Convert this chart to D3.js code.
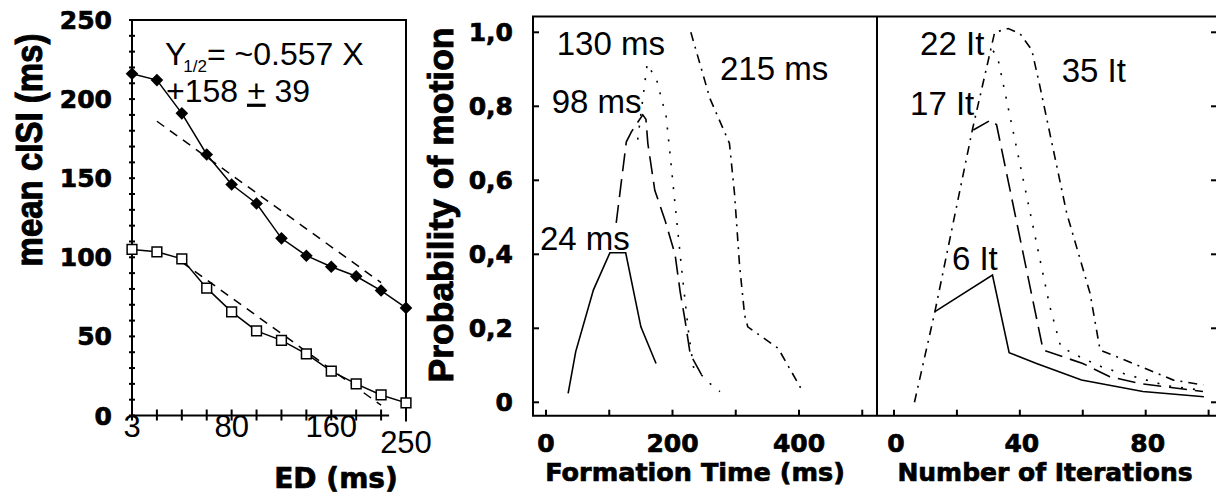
<!DOCTYPE html>
<html>
<head>
<meta charset="utf-8">
<script src="https://cdn.jsdelivr.net/npm/d3@7"></script>
<style>
body { margin: 0; background: #fff; }
svg { display: block; }
.bold { font-family: "DejaVu Sans", sans-serif; font-weight: bold; stroke: #000; stroke-width: 0.7px; }
.rot { font-family: "Liberation Sans", Arial, sans-serif; font-weight: bold; stroke: #000; stroke-width: 0.9px; }
.reg { font-family: "Liberation Sans", Arial, sans-serif; }
</style>
</head>
<body>
<div id="chart"></div>
<script>

// ---- data ----
// left panel: mean cISI vs ED
var edValues = [3, 20, 40, 60, 80, 100, 120, 140, 160, 180, 200, 250];
var edTickLabels = [3, 80, 160, 250];
var cisiTicks = [0, 50, 100, 150, 200, 250];
var cisiDiamond = [216, 212, 191, 165, 146, 134, 112, 101, 94, 88, 79, 68];
var cisiSquare = [105, 103.5, 99, 80.5, 65.5, 53.5, 47.5, 39, 28, 20, 13, 8];
var fitUpper = [[20, 186], [200, 84]];
var fitLower = [[40, 97], [200, 6.5]];

// middle panel: probability vs formation time
var formation24 = [[35, 0.024], [47, 0.137], [75, 0.304], [101, 0.404], [126, 0.404], [150, 0.204], [174, 0.105]];
var formation98 = [[111, 0.485], [127, 0.704], [135, 0.731], [153, 0.777], [158, 0.765], [161, 0.70], [172, 0.573],
                   [188, 0.493], [204, 0.40], [212, 0.30], [220, 0.22], [228, 0.13], [246, 0.074]];
var formation130 = [[145, 0.71], [160, 0.915], [175, 0.871], [190, 0.772], [196, 0.673], [206, 0.502], [216, 0.335],
                    [225, 0.195], [233, 0.096], [259, 0.051], [275, 0.029]];
var formation215 = [[229, 1.0], [259, 0.822], [290, 0.70], [298, 0.565], [306, 0.371], [314, 0.236], [319, 0.204],
                    [367, 0.146], [406, 0.029]];
var timeTicks = [0, 100, 200, 300, 400, 500];
var timeTickLabels = [0, 200, 400];

// right panel: probability vs number of iterations
var iter6 = [[13, 0.245], [31.3, 0.344], [36.6, 0.134], [45.3, 0.105], [59.6, 0.06], [79.1, 0.029], [98.5, 0.015]];
var iter17 = [[25.2, 0.736], [30.8, 0.763], [32.6, 0.75], [47.4, 0.141], [60, 0.105], [68.6, 0.069], [78, 0.051], [98.2, 0.029]];
var iter22 = [[31.5, 0.95], [33, 0.93], [49.5, 0.26], [53, 0.15], [59, 0.123], [67, 0.092], [86.6, 0.045], [98.2, 0.032]];
var iter35 = [[6.5, 0.0], [13, 0.245], [25, 0.74], [32, 1.0], [36.3, 1.01], [40, 0.997], [43.8, 0.952], [46.4, 0.853],
              [54.9, 0.511], [62.3, 0.295], [65.5, 0.141], [76, 0.105], [88.8, 0.06], [98.3, 0.047]];
var iterTicks = [0, 20, 40, 60, 80, 100];
var iterTickLabels = [0, 40, 80];

var probTicks = [0, 0.2, 0.4, 0.6, 0.8, 1.0];
var probTickLabels = ["0", "0,2", "0,4", "0,6", "0,8", "1,0"];


var W = 1216, H = 497;
var svg = d3.select("#chart").append("svg")
    .attr("width", W)
    .attr("height", H);

function frameLine(g, x1, y1, x2, y2, w) {
    g.append("line")
        .attr("x1", x1).attr("y1", y1).attr("x2", x2).attr("y2", y2)
        .attr("stroke", "#000").attr("stroke-width", w || 2);
}


/* ---------------- LEFT PANEL ---------------- */
var xL = d3.scalePoint().domain(edValues).range([132, 406]);
var yL = d3.scaleLinear().domain([0, 250]).range([415.5, 20]);
var left = svg.append("g");

frameLine(left, xL(3), yL(250), xL(3), yL(0));
frameLine(left, xL(3) - 1, yL(250), xL(250) + 1, yL(250));
frameLine(left, xL(250), yL(250), xL(250), yL(0) + 6);
frameLine(left, xL(3), yL(0), xL(200) + 8, yL(0));

// minor ticks on y axis, every 10
left.selectAll(".ytick")
    .data(d3.range(0, 251, 10))
    .enter().append("line")
    .attr("x1", xL(3) - 3).attr("x2", xL(3) + 3)
    .attr("y1", function(d) { return yL(d); })
    .attr("y2", function(d) { return yL(d); })
    .attr("stroke", "#000").attr("stroke-width", 2);

left.selectAll(".xtick")
    .data(edValues)
    .enter().append("line")
    .attr("x1", function(d) { return xL(d); })
    .attr("x2", function(d) { return xL(d); })
    .attr("y1", yL(0) - 6).attr("y2", yL(0) + 5)
    .attr("stroke", "#000").attr("stroke-width", 2);

left.selectAll(".ylab")
    .data(cisiTicks)
    .enter().append("text")
    .attr("class", "bold")
    .attr("x", xL(3) - 20)
    .attr("y", function(d) { return yL(d); })
    .attr("dy", "0.36em")
    .attr("text-anchor", "end")
    .attr("font-size", 25)
    .text(function(d) { return d; });

left.selectAll(".xlab")
    .data(edTickLabels)
    .enter().append("text")
    .attr("class", "reg")
    .attr("x", function(d) { return xL(d); })
    .attr("y", function(d) { return yL(0) + (d === 250 ? 37.5 : 21); })
    .attr("text-anchor", "middle")
    .attr("font-size", 31)
    .text(function(d) { return d; });

// fit lines
var fitLine = d3.line()
    .x(function(d) { return xL(d[0]); })
    .y(function(d) { return yL(d[1]); });

[fitUpper, fitLower].forEach(function(f) {
    left.append("path")
        .attr("d", fitLine(f))
        .attr("fill", "none")
        .attr("stroke", "#000")
        .attr("stroke-width", 1.5)
        .attr("stroke-dasharray", "9,7");
});

var serLine = d3.line()
    .x(function(d, i) { return xL(edValues[i]); })
    .y(function(d) { return yL(d); });

[cisiDiamond, cisiSquare].forEach(function(s) {
    left.append("path")
        .attr("d", serLine(s))
        .attr("fill", "none")
        .attr("stroke", "#000")
        .attr("stroke-width", 1.5);
});

left.selectAll(".diamond")
    .data(cisiDiamond)
    .enter().append("path")
    .attr("d", d3.symbol().type(d3.symbolSquare).size(80))
    .attr("transform", function(d, i) { return "translate(" + xL(edValues[i]) + "," + yL(d) + ") rotate(45)"; })
    .attr("fill", "#000");

left.selectAll(".square")
    .data(cisiSquare)
    .enter().append("path")
    .attr("d", d3.symbol().type(d3.symbolSquare).size(95))
    .attr("transform", function(d, i) { return "translate(" + xL(edValues[i]) + "," + yL(d) + ")"; })
    .attr("fill", "#fff")
    .attr("stroke", "#000")
    .attr("stroke-width", 1.5);

// equation
var eq = left.append("text")
    .attr("class", "reg")
    .attr("x", 165).attr("y", 65)
    .attr("font-size", 32);
eq.append("tspan").text("Y");
eq.append("tspan").attr("font-size", 17).attr("dx", -3).attr("dy", 7).text("1/2");
eq.append("tspan").attr("dy", -7).text("= ~0.557 X");

var eq2 = left.append("text")
    .attr("class", "reg")
    .attr("x", 166).attr("y", 101.7)
    .attr("font-size", 32);
eq2.append("tspan").text("+158 ");
eq2.append("tspan").style("text-decoration", "underline").text("+");
eq2.append("tspan").text(" 39");

left.append("text")
    .attr("class", "rot")
    .attr("transform", "translate(42,150) rotate(-90) scale(1,1.12)")
    .attr("text-anchor", "middle")
    .attr("font-size", 33)
    .text("mean cISI (ms)");

left.append("text")
    .attr("class", "bold")
    .attr("x", 336).attr("y", 488)
    .attr("text-anchor", "middle")
    .attr("font-size", 28)
    .text("ED (ms)");


/* ---------------- MIDDLE + RIGHT PANELS ---------------- */
var topY = 16.5, botY = 415.7;
var xM = d3.scaleLinear().domain([0, 400]).range([546, 799]);
var xR = d3.scaleLinear().domain([0, 80]).range([894, 1145.7]);
var yP = d3.scaleLinear().domain([0, 1]).range([402.3, 32.3]);
var leftM = 533, divX = 877, rightR = 1217;

var mid = svg.append("g");

frameLine(mid, leftM, topY, leftM, botY);
frameLine(mid, leftM - 1, topY, rightR, topY);
frameLine(mid, leftM - 1, botY, rightR, botY);
frameLine(mid, divX, topY, divX, botY);

// y ticks, left (inward) and far right
mid.selectAll(".ytickM")
    .data(probTicks)
    .enter().append("line")
    .attr("x1", leftM).attr("x2", leftM + 6)
    .attr("y1", function(d) { return yP(d); })
    .attr("y2", function(d) { return yP(d); })
    .attr("stroke", "#000").attr("stroke-width", 2);

mid.selectAll(".ytickR")
    .data(probTicks)
    .enter().append("line")
    .attr("x1", rightR - 6).attr("x2", rightR)
    .attr("y1", function(d) { return yP(d); })
    .attr("y2", function(d) { return yP(d); })
    .attr("stroke", "#000").attr("stroke-width", 2);

mid.selectAll(".ylabM")
    .data(probTicks)
    .enter().append("text")
    .attr("class", "bold")
    .attr("x", leftM - 20)
    .attr("y", function(d) { return yP(d); })
    .attr("dy", "0.36em")
    .attr("text-anchor", "end")
    .attr("font-size", 25)
    .text(function(d, i) { return probTickLabels[i]; });

mid.selectAll(".xtickM")
    .data(timeTicks)
    .enter().append("line")
    .attr("x1", function(d) { return xM(d); })
    .attr("x2", function(d) { return xM(d); })
    .attr("y1", botY - 6).attr("y2", botY)
    .attr("stroke", "#000").attr("stroke-width", 2);

mid.selectAll(".xtickR")
    .data(iterTicks)
    .enter().append("line")
    .attr("x1", function(d) { return xR(d); })
    .attr("x2", function(d) { return xR(d); })
    .attr("y1", botY - 6).attr("y2", botY)
    .attr("stroke", "#000").attr("stroke-width", 2);

mid.selectAll(".xlabM")
    .data(timeTickLabels)
    .enter().append("text")
    .attr("class", "bold")
    .attr("x", function(d) { return xM(d); })
    .attr("y", 452)
    .attr("text-anchor", "middle")
    .attr("font-size", 25)
    .text(function(d) { return d; });

mid.selectAll(".xlabR")
    .data(iterTickLabels)
    .enter().append("text")
    .attr("class", "bold")
    .attr("x", function(d) { return xR(d) + 2; })
    .attr("y", 452)
    .attr("text-anchor", "middle")
    .attr("font-size", 25)
    .text(function(d) { return d; });

mid.append("text")
    .attr("class", "bold")
    .attr("x", 695).attr("y", 481)
    .attr("text-anchor", "middle")
    .attr("font-size", 25.5)
    .text("Formation Time (ms)");

mid.append("text")
    .attr("class", "bold")
    .attr("x", 1045).attr("y", 481)
    .attr("text-anchor", "middle")
    .attr("font-size", 25)
    .text("Number of Iterations");

mid.append("text")
    .attr("class", "rot")
    .attr("transform", "translate(453,205) rotate(-90)")
    .attr("text-anchor", "middle")
    .attr("font-size", 35.5)
    .text("Probability of motion");

// curves
var dashes = [null, "18,8", "2,10", "9,6,2,6"];

var lineM = d3.line()
    .x(function(d) { return xM(d[0]); })
    .y(function(d) { return yP(d[1]); });
var lineR = d3.line()
    .x(function(d) { return xR(d[0]); })
    .y(function(d) { return yP(d[1]); });

[formation24, formation98, formation130, formation215].forEach(function(c, i) {
    mid.append("path")
        .attr("d", lineM(c))
        .attr("fill", "none")
        .attr("stroke", "#000")
        .attr("stroke-width", 1.6)
        .attr("stroke-dasharray", dashes[i]);
});

[iter6, iter17, iter22, iter35].forEach(function(c, i) {
    mid.append("path")
        .attr("d", lineR(c))
        .attr("fill", "none")
        .attr("stroke", "#000")
        .attr("stroke-width", 1.6)
        .attr("stroke-dasharray", dashes[i]);
});

// curve labels, placed in data coordinates
var msLabels = [["24 ms", -9.5, 0.412], ["98 ms", 9, 0.781], ["130 ms", 17, 0.939], ["215 ms", 275, 0.871]];
var itLabels = [["6 It", 18.4, 0.358], ["17 It", 5.1, 0.776], ["22 It", 8.3, 0.939], ["35 It", 53.3, 0.866]];

mid.selectAll(".msl")
    .data(msLabels)
    .enter().append("text")
    .attr("class", "reg")
    .attr("x", function(d) { return xM(d[1]); })
    .attr("y", function(d) { return yP(d[2]); })
    .attr("font-size", 33)
    .text(function(d) { return d[0]; });

mid.selectAll(".itl")
    .data(itLabels)
    .enter().append("text")
    .attr("class", "reg")
    .attr("x", function(d) { return xR(d[1]); })
    .attr("y", function(d) { return yP(d[2]); })
    .attr("font-size", 33)
    .text(function(d) { return d[0]; });

</script>
</body>
</html>
